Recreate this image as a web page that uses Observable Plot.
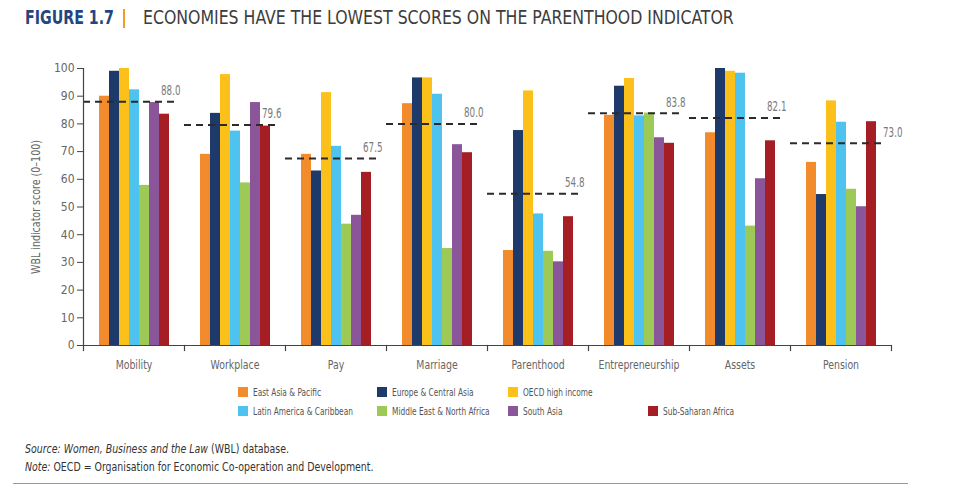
<!DOCTYPE html>
<html>
<head>
<meta charset="utf-8">
<script src="https://cdn.jsdelivr.net/npm/d3@7"></script>
<script src="https://cdn.jsdelivr.net/npm/@observablehq/plot@0.6"></script>
<style>
  body { margin: 0; background: #fff; font-family: "DejaVu Sans Condensed", "Liberation Sans Narrow", sans-serif; }
  #wrap { position: relative; width: 975px; height: 488px; overflow: hidden; }
  .sq { display: inline-block; transform-origin: 0 50%; white-space: nowrap; }
  #fig { position: absolute; left: 25px; top: 5px; font-size: 20px; font-weight: bold; color: #24467f; transform: scaleX(0.79); }
  #tbar { position: absolute; left: 123px; top: 9px; width: 2px; height: 19px; background: #f39a2b; }
  #ttl { position: absolute; left: 143px; top: 5px; font-size: 20px; color: #3d3d3d; transform: scaleX(0.874); }
  #chart { position: absolute; left: 0; top: 40px; }
  #legend { position: absolute; left: 238px; top: 384px; display: grid; grid-template-columns: 139px 131px 140px 120px; row-gap: 3px; font-size: 11px; color: #555; }
  #legend .item { display: flex; align-items: center; height: 16px; white-space: nowrap; overflow: visible; }
  #legend .sw { width: 10px; height: 10px; margin-right: 5px; flex: none; }
  #legend .lab { display: inline-block; transform: scaleX(0.75); transform-origin: 0 50%; }
  #notes { position: absolute; left: 25px; top: 440px; font-size: 11.5px; line-height: 18px; color: #333; }
  #notes div { transform: scaleX(0.91); transform-origin: 0 50%; white-space: nowrap; }
  #rule { position: absolute; left: 13px; top: 483px; width: 895px; height: 0; border-top: 1.5px solid #999; }
</style>
</head>
<body>
<div id="wrap">
  <span id="fig" class="sq">FIGURE 1.7</span>
  <div id="tbar"></div>
  <span id="ttl" class="sq">ECONOMIES HAVE THE LOWEST SCORES ON THE PARENTHOOD INDICATOR</span>
  <div id="chart"></div>
  <div id="legend"></div>
  <div id="notes">
    <div><i>Source: Women, Business and the Law</i> (WBL) database.</div>
    <div><i>Note:</i> OECD = Organisation for Economic Co-operation and Development.</div>
  </div>
  <div id="rule"></div>
</div>
<script>
const categories = ["Mobility", "Workplace", "Pay", "Marriage", "Parenthood", "Entrepreneurship", "Assets", "Pension"];
const regions = ["East Asia & Pacific", "Europe & Central Asia", "OECD high income", "Latin America & Caribbean", "Middle East & North Africa", "South Asia", "Sub-Saharan Africa"];
const colors = ["#f28b2c", "#1e3a6b", "#fcc01a", "#4fc3ef", "#9dca56", "#8a5699", "#a51e24"];

const eastAsiaPacific       = [90.0, 69.0, 69.0, 87.3, 34.3, 83.1, 76.8, 66.1];
const europeCentralAsia     = [99.0, 83.8, 63.0, 96.6, 77.6, 93.6, 100.0, 54.5];
const oecdHighIncome        = [100.0, 97.8, 91.3, 96.6, 91.9, 96.4, 99.0, 88.3];
const latinAmericaCaribbean = [92.3, 77.4, 71.9, 90.7, 47.5, 82.9, 98.3, 80.6];
const middleEastNorthAfrica = [57.8, 58.7, 43.8, 35.0, 34.0, 83.9, 43.1, 56.4];
const southAsia             = [87.7, 87.7, 47.0, 72.5, 30.2, 75.0, 60.2, 50.1];
const subSaharanAfrica      = [83.5, 79.2, 62.5, 69.6, 46.5, 73.0, 73.9, 80.8];
const averages              = [88.0, 79.6, 67.5, 80.0, 54.8, 83.8, 82.1, 73.0];
const yTicks = [0, 10, 20, 30, 40, 50, 60, 70, 80, 90, 100];

const series = [eastAsiaPacific, europeCentralAsia, oecdHighIncome, latinAmericaCaribbean, middleEastNorthAfrica, southAsia, subSaharanAfrica];
const table = [];
categories.forEach((c, i) => regions.forEach((r, j) => table.push({category: c, region: r, value: series[j][i]})));
const avgTable = categories.map((c, i) => ({category: c, value: averages[i]}));
const lastCat = categories[categories.length - 1];

const font = '"DejaVu Sans Condensed", "Liberation Sans Narrow", sans-serif';
const plotH = 340, mTop = 28, mBottom = 35;
const avgText = {fx: "category", y: "value", text: d => d.value.toFixed(1), frameAnchor: "right", textAnchor: "end", dy: -11, fill: "#7a7a7a", fontSize: 13.5};

const chart = Plot.plot({
  width: 975,
  height: plotH,
  marginLeft: 82,
  marginRight: 83,
  marginTop: mTop,
  marginBottom: mBottom,
  style: {fontFamily: font, fontSize: "12px", color: "#666", background: "transparent", overflow: "visible"},
  fx: {domain: categories, padding: 0, label: null, axis: null},
  x: {domain: regions, paddingInner: 0, paddingOuter: 1.1, axis: null},
  y: {domain: [0, 100], axis: null},
  color: {domain: regions, range: colors},
  marks: [
    Plot.barY(table, {fx: "category", x: "region", y: "value", fill: "region"}),
    Plot.ruleY(avgTable, {fx: "category", y: "value", stroke: "#2b2b2b", strokeWidth: 2, strokeDasharray: "7,5", insetRight: 6}),
    Plot.text(avgTable.filter(d => d.category !== lastCat), {...avgText, dx: -4}),
    Plot.text(avgTable.filter(d => d.category === lastCat), {...avgText, dx: 11}),
    Plot.ruleY([0], {stroke: "#444", strokeWidth: 1.2}),
    Plot.frame({anchor: "left", facetAnchor: "left", stroke: "#444", strokeWidth: 1.2}),
    Plot.frame({anchor: "left", insetTop: plotH - mTop - mBottom, insetBottom: -5, stroke: "#444", strokeWidth: 1.2}),
    Plot.frame({anchor: "right", facetAnchor: "right", insetTop: plotH - mTop - mBottom, insetBottom: -5, stroke: "#444", strokeWidth: 1.2}),
    Plot.axisY({ticks: yTicks, tickSize: 6, tickPadding: 3, fontSize: 12, stroke: "#444", label: "WBL indicator score (0–100)", labelAnchor: "center", labelArrow: "none", labelOffset: 52}),
    Plot.axisFx({anchor: "bottom", tickSize: 0, tickPadding: 14, fontSize: 13, label: null})
  ]
});
document.getElementById("chart").appendChild(chart);

function squeezeEl(t, s) {
  const tr = t.getAttribute("transform");
  if (tr) t.setAttribute("transform", tr + ` scale(${s},1)`);
  else {
    const x = +t.getAttribute("x") || 0;
    t.setAttribute("transform", `translate(${x},0) scale(${s},1) translate(${-x},0)`);
  }
}
const avgStrings = new Set(averages.map(v => v.toFixed(1)));
chart.querySelectorAll("text").forEach(t => {
  if (t.children.length === 0 && avgStrings.has(t.textContent.trim())) squeezeEl(t, 0.72);
});
chart.querySelectorAll('g[aria-label="fx-axis tick label"] text').forEach(t => squeezeEl(t, 0.8));
chart.querySelectorAll('g[aria-label="y-axis label"] text').forEach(t => squeezeEl(t, 0.88));

const legend = document.getElementById("legend");
const legendRows = [[0, 1, 2, null], [3, 4, 5, 6]];
legendRows.forEach(row => row.forEach(k => {
  const item = document.createElement("div");
  item.className = "item";
  if (k !== null) {
    const sw = document.createElement("span");
    sw.className = "sw";
    sw.style.background = colors[k];
    item.appendChild(sw);
    const lab = document.createElement("span");
    lab.className = "lab";
    lab.textContent = regions[k];
    item.appendChild(lab);
  }
  legend.appendChild(item);
}));
</script>
</body>
</html>
